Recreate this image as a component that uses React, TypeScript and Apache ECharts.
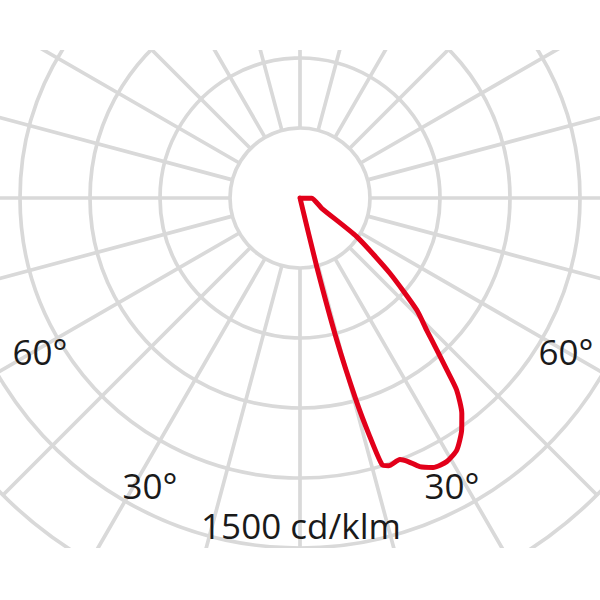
import React, { useEffect, useRef } from "react";
import * as echarts from "echarts";

// Luminous intensity curve: [intensity (cd/klm), gamma angle (deg from nadir, + to the right)]
const curveIntensity = [0, 304, 630, 900, 1063, 1196, 1209, 1200, 1221, 1260, 1288, 1293, 1272, 1211, 1155, 1062, 969, 876, 784, 693, 501, 294, 103, 50, 0];
const curveAngle = [13.5, 13.7, 14.5, 15.5, 16.3, 17.1, 18.3, 20.9, 22.3, 24.0, 26.3, 29.1, 31.9, 34.9, 36.9, 39.2, 40.5, 42.0, 43.8, 46.2, 50.1, 55.7, 64.6, 89, 100];

const ringMax = 1800;
const ringStep = 300;
const angleStep = 15;

const labels = [
  { text: "60°", x: 40, y: 351 },
  { text: "60°", x: 566, y: 351 },
  { text: "30°", x: 150, y: 485 },
  { text: "30°", x: 452, y: 485 },
  { text: "1500 cd/klm", x: 301, y: 525 },
];

export default function App() {
  const ref = useRef<HTMLDivElement>(null);
  useEffect(() => {
    document.body.style.margin = "0";
    const chart = echarts.init(ref.current!, null, { renderer: "svg" });
    const grey = "#d9d9d9";
    const gw = 3.7;
    const center = [300, 198];
    const data = curveIntensity.map((v, i) => [v, curveAngle[i]]);
    chart.setOption({
      animation: false,
      backgroundColor: "#ffffff",
      polar: [
        { center, radius: [70, 420] },
        { center, radius: [0, 420] },
      ],
      angleAxis: [
        {
          polarIndex: 0,
          type: "value",
          min: 0,
          max: 360,
          interval: angleStep,
          startAngle: -90,
          clockwise: false,
          axisLine: { show: false },
          axisTick: { show: false },
          axisLabel: { show: false },
          splitLine: { show: true, lineStyle: { color: grey, width: gw } },
        },
        {
          polarIndex: 1,
          type: "value",
          min: 0,
          max: 360,
          interval: angleStep,
          startAngle: -90,
          clockwise: false,
          axisLine: { show: false },
          axisTick: { show: false },
          axisLabel: { show: false },
          splitLine: { show: false },
        },
      ],
      radiusAxis: [
        {
          polarIndex: 0,
          type: "value",
          min: 0,
          max: ringMax,
          show: false,
          splitLine: { show: false },
        },
        {
          polarIndex: 1,
          type: "value",
          min: 0,
          max: ringMax,
          interval: ringStep,
          axisLine: { show: false },
          axisTick: { show: false },
          axisLabel: { show: false },
          splitLine: { show: true, lineStyle: { color: grey, width: gw } },
        },
      ],
      series: [
        {
          type: "line",
          coordinateSystem: "polar",
          polarIndex: 1,
          data,
          showSymbol: false,
          smooth: 0.2,
          clip: false,
          lineStyle: { color: "#e2001a", width: 5, join: "round", cap: "round" },
          z: 10,
        },
      ],
      graphic: [
        { type: "rect", z: 100, shape: { x: 0, y: 0, width: 600, height: 50 }, style: { fill: "#ffffff" } },
        { type: "rect", z: 100, shape: { x: 0, y: 548, width: 600, height: 52 }, style: { fill: "#ffffff" } },
        ...labels.map((l) => ({
          type: "text",
          z: 101,
          x: l.x,
          y: l.y,
          style: {
            text: l.text,
            font: '35px "Open Sans"',
            fill: "#1a1a1a",
            textAlign: "center",
            textVerticalAlign: "middle",
          },
        })),
      ],
    });
    return () => chart.dispose();
  }, []);
  return <div ref={ref} style={{ width: 600, height: 600 }} />;
}
